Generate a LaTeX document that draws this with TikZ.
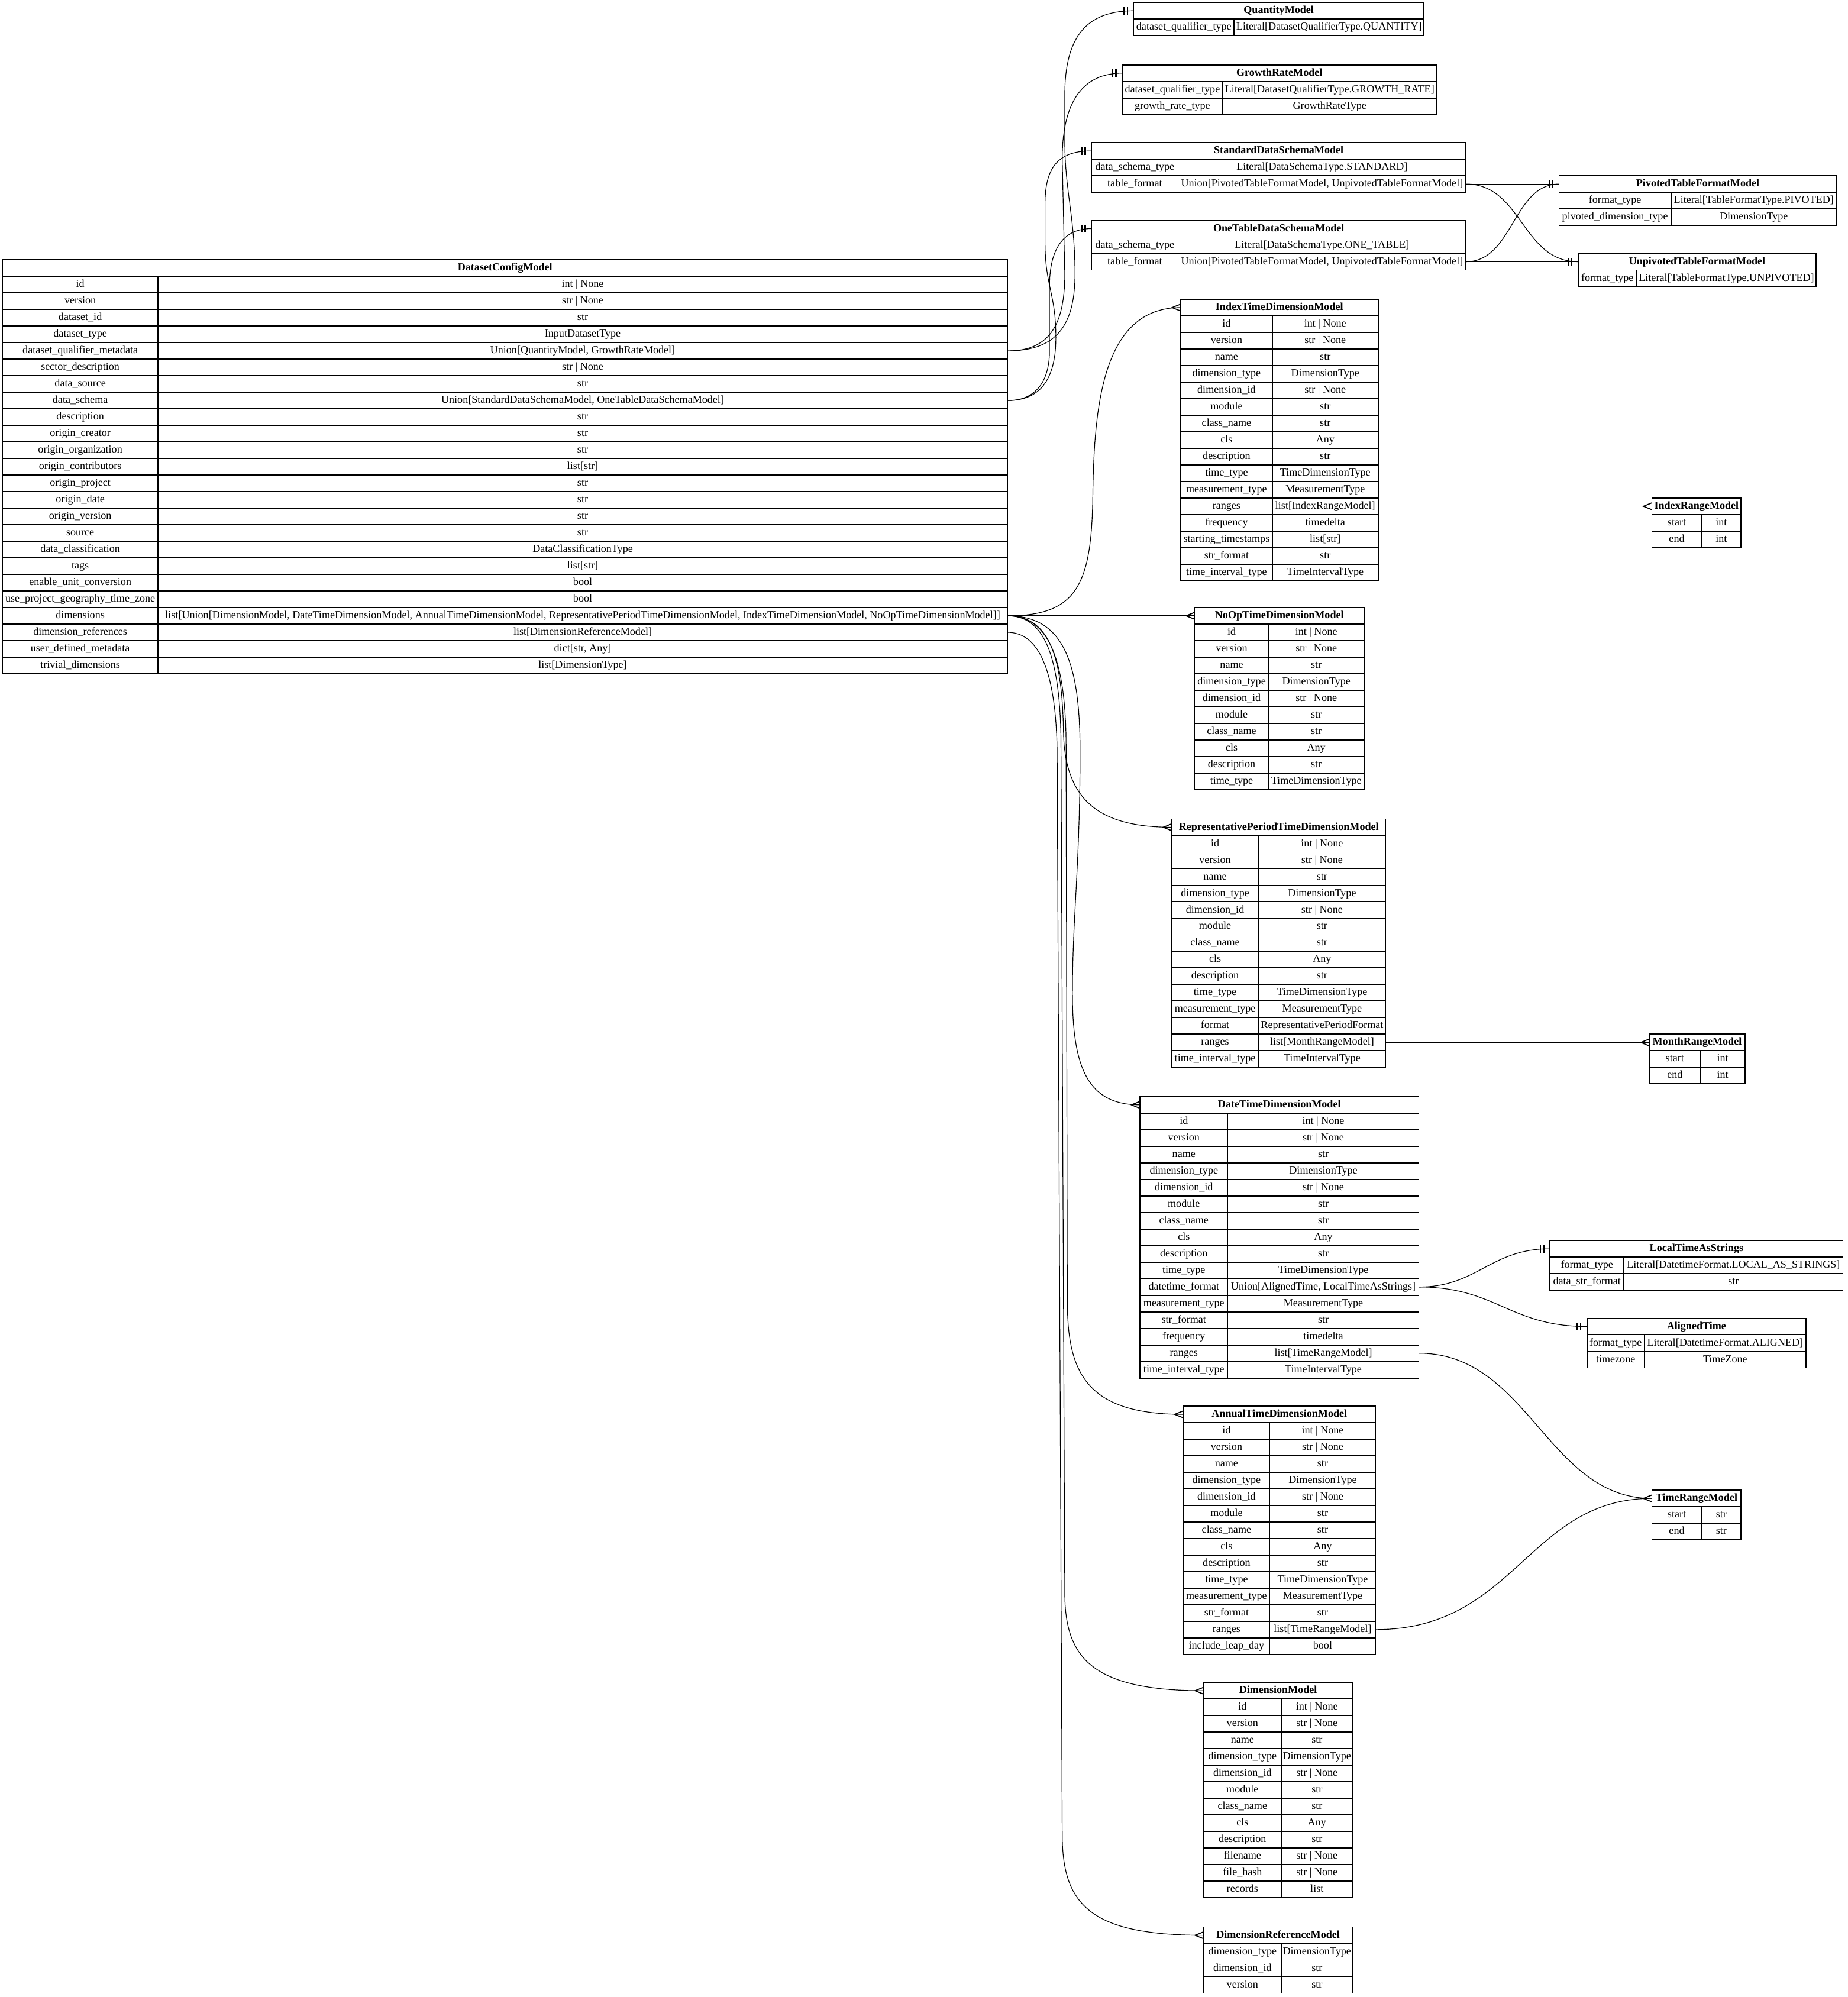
\documentclass[tikz,border=0pt]{standalone}
\usepackage{fontspec}
\setmainfont{Liberation Serif}
\usetikzlibrary{calc}
\tikzset{
  erbox/.style={draw, rectangle, line width=0.8pt, inner sep=0pt, outer sep=0pt,
    minimum height=13pt, anchor=north west, text height=6pt, text depth=1.7pt,
    font=\fontsize{8.4}{10}\selectfont},
  erhead/.style={erbox, font=\fontsize{8.4}{10}\selectfont\bfseries},
  conn/.style={draw, line width=0.55pt},
  teebar/.style={line width=1.1pt},
  crowline/.style={line width=0.8pt},
}
% #1 name, #2 x left, #3 x split, #4 x right, #5 y top, #6 title, #7 rows
\newcommand\ertable[7]{%
  \pgfmathsetmacro\erwa{#4-#2}%
  \pgfmathsetmacro\erwl{#3-#2}%
  \pgfmathsetmacro\erwr{#4-#3}%
  \node[erhead, minimum width=\erwa pt] (#1) at (#2,#5) {\makebox[0pt]{#6}};
  \foreach[count=\i] \a/\b in {#7} {
    \pgfmathsetmacro\ery{#5+13*\i}
    \node[erbox, minimum width=\erwl pt] (#1-\i-l) at (#2,\ery) {\makebox[0pt]{\a}};
    \node[erbox, minimum width=\erwr pt] (#1-\i) at (#3,\ery) {\makebox[0pt]{\b}};
  }
}
\newcommand\teetee[1]{%
  \draw[teebar] ($(#1)+(-4.9,-3.1)$) -- ($(#1)+(-4.9,3.1)$)
                ($(#1)+(-7.6,-3.1)$) -- ($(#1)+(-7.6,3.1)$);}
\newcommand\crowfoot[1]{%
  \draw[crowline] ($(#1)+(0,-2.7)$) -- ($(#1)+(-6.7,0)$) -- ($(#1)+(0,2.7)$);}
\begin{document}
\begin{tikzpicture}[x=1pt,y=-1pt]
\fill[white] (0,0) rectangle (1450.5,1568);
\useasboundingbox (0,0) rectangle (1450.5,1568);

\ertable{dc}{2}{124}{791}{204}{DatasetConfigModel}{
 {id}/{int | None},
 {version}/{str | None},
 {dataset\_id}/{str},
 {dataset\_type}/{InputDatasetType},
 {dataset\_qualifier\_metadata}/{Union[QuantityModel, GrowthRateModel]},
 {sector\_description}/{str | None},
 {data\_source}/{str},
 {data\_schema}/{Union[StandardDataSchemaModel, OneTableDataSchemaModel]},
 {description}/{str},
 {origin\_creator}/{str},
 {origin\_organization}/{str},
 {origin\_contributors}/{list[str]},
 {origin\_project}/{str},
 {origin\_date}/{str},
 {origin\_version}/{str},
 {source}/{str},
 {data\_classification}/{DataClassificationType},
 {tags}/{list[str]},
 {enable\_unit\_conversion}/{bool},
 {use\_project\_geography\_time\_zone}/{bool},
 {dimensions}/{list[Union[DimensionModel, DateTimeDimensionModel, AnnualTimeDimensionModel, RepresentativePeriodTimeDimensionModel, IndexTimeDimensionModel, NoOpTimeDimensionModel]]},
 {dimension\_references}/{list[DimensionReferenceModel]},
 {user\_defined\_metadata}/{dict[str, Any]},
 {trivial\_dimensions}/{list[DimensionType]}}

\ertable{Q}{890}{969}{1118}{2}{QuantityModel}{
 {dataset\_qualifier\_type}/{Literal[DatasetQualifierType.QUANTITY]}}

\ertable{GR}{881}{960}{1128}{51}{GrowthRateModel}{
 {dataset\_qualifier\_type}/{Literal[DatasetQualifierType.GROWTH\_RATE]},
 {growth\_rate\_type}/{GrowthRateType}}

\ertable{S}{857}{925}{1151}{112}{StandardDataSchemaModel}{
 {data\_schema\_type}/{Literal[DataSchemaType.STANDARD]},
 {table\_format}/{Union[PivotedTableFormatModel, UnpivotedTableFormatModel]}}

\ertable{OT}{857}{925}{1151}{173}{OneTableDataSchemaModel}{
 {data\_schema\_type}/{Literal[DataSchemaType.ONE\_TABLE]},
 {table\_format}/{Union[PivotedTableFormatModel, UnpivotedTableFormatModel]}}

\ertable{PV}{1224}{1312}{1442}{138}{PivotedTableFormatModel}{
 {format\_type}/{Literal[TableFormatType.PIVOTED]},
 {pivoted\_dimension\_type}/{DimensionType}}

\ertable{UP}{1239}{1285}{1426}{199}{UnpivotedTableFormatModel}{
 {format\_type}/{Literal[TableFormatType.UNPIVOTED]}}

\ertable{IT}{927}{999}{1082}{235}{IndexTimeDimensionModel}{
 {id}/{int | None},
 {version}/{str | None},
 {name}/{str},
 {dimension\_type}/{DimensionType},
 {dimension\_id}/{str | None},
 {module}/{str},
 {class\_name}/{str},
 {cls}/{Any},
 {description}/{str},
 {time\_type}/{TimeDimensionType},
 {measurement\_type}/{MeasurementType},
 {ranges}/{list[IndexRangeModel]},
 {frequency}/{timedelta},
 {starting\_timestamps}/{list[str]},
 {str\_format}/{str},
 {time\_interval\_type}/{TimeIntervalType}}

\ertable{IR}{1297}{1336}{1367}{391}{IndexRangeModel}{
 {start}/{int},
 {end}/{int}}

\ertable{NO}{938}{996}{1071}{477}{NoOpTimeDimensionModel}{
 {id}/{int | None},
 {version}/{str | None},
 {name}/{str},
 {dimension\_type}/{DimensionType},
 {dimension\_id}/{str | None},
 {module}/{str},
 {class\_name}/{str},
 {cls}/{Any},
 {description}/{str},
 {time\_type}/{TimeDimensionType}}

\ertable{RP}{920}{988}{1088}{643}{RepresentativePeriodTimeDimensionModel}{
 {id}/{int | None},
 {version}/{str | None},
 {name}/{str},
 {dimension\_type}/{DimensionType},
 {dimension\_id}/{str | None},
 {module}/{str},
 {class\_name}/{str},
 {cls}/{Any},
 {description}/{str},
 {time\_type}/{TimeDimensionType},
 {measurement\_type}/{MeasurementType},
 {format}/{RepresentativePeriodFormat},
 {ranges}/{list[MonthRangeModel]},
 {time\_interval\_type}/{TimeIntervalType}}

\ertable{MR}{1295}{1335}{1370}{812}{MonthRangeModel}{
 {start}/{int},
 {end}/{int}}

\ertable{DT}{895}{964}{1114}{861}{DateTimeDimensionModel}{
 {id}/{int | None},
 {version}/{str | None},
 {name}/{str},
 {dimension\_type}/{DimensionType},
 {dimension\_id}/{str | None},
 {module}/{str},
 {class\_name}/{str},
 {cls}/{Any},
 {description}/{str},
 {time\_type}/{TimeDimensionType},
 {datetime\_format}/{Union[AlignedTime, LocalTimeAsStrings]},
 {measurement\_type}/{MeasurementType},
 {str\_format}/{str},
 {frequency}/{timedelta},
 {ranges}/{list[TimeRangeModel]},
 {time\_interval\_type}/{TimeIntervalType}}

\ertable{LT}{1217}{1275}{1447}{974}{LocalTimeAsStrings}{
 {format\_type}/{Literal[DatetimeFormat.LOCAL\_AS\_STRINGS]},
 {data\_str\_format}/{str}}

\ertable{AL}{1246}{1291}{1418}{1035}{AlignedTime}{
 {format\_type}/{Literal[DatetimeFormat.ALIGNED]},
 {timezone}/{TimeZone}}

\ertable{AT}{929}{997}{1080}{1104}{AnnualTimeDimensionModel}{
 {id}/{int | None},
 {version}/{str | None},
 {name}/{str},
 {dimension\_type}/{DimensionType},
 {dimension\_id}/{str | None},
 {module}/{str},
 {class\_name}/{str},
 {cls}/{Any},
 {description}/{str},
 {time\_type}/{TimeDimensionType},
 {measurement\_type}/{MeasurementType},
 {str\_format}/{str},
 {ranges}/{list[TimeRangeModel]},
 {include\_leap\_day}/{bool}}

\ertable{TR}{1297}{1336}{1367}{1170}{TimeRangeModel}{
 {start}/{str},
 {end}/{str}}

\ertable{DM}{945}{1006}{1062}{1321}{DimensionModel}{
 {id}/{int | None},
 {version}/{str | None},
 {name}/{str},
 {dimension\_type}/{DimensionType},
 {dimension\_id}/{str | None},
 {module}/{str},
 {class\_name}/{str},
 {cls}/{Any},
 {description}/{str},
 {filename}/{str | None},
 {file\_hash}/{str | None},
 {records}/{list}}

\ertable{DR}{945}{1006}{1062}{1513}{DimensionReferenceModel}{
 {dimension\_type}/{DimensionType},
 {dimension\_id}/{str},
 {version}/{str}}

% ---------- connectors: one-to-one (tee tee) ----------
\draw[conn] (dc-5.east) .. controls (830,275.5) and (844,255) .. (844,215)
  .. controls (844,170) and (836,150) .. (836,110) -- (836,75)
  .. controls (836,30) and (852,8.5) .. (Q.west);
\teetee{Q.west}
\draw[conn] (dc-5.east) .. controls (822,275.5) and (836,258) .. (836,215)
  -- (834,125) .. controls (834,80) and (850,57.5) .. (GR.west);
\teetee{GR.west}
\draw[conn] (dc-8.east) .. controls (815,314.5) and (829,300) .. (829,265)
  .. controls (829,230) and (820.5,225) .. (820.5,190) -- (820.5,160)
  .. controls (820.5,130) and (832,118.5) .. (S.west);
\teetee{S.west}
\draw[conn] (dc-8.east) .. controls (813,314.5) and (824,300) .. (824,275)
  -- (824,225) .. controls (824,195) and (835,179.5) .. (OT.west);
\teetee{OT.west}

\draw[conn] (S-2.east) -- (PV.west);
\teetee{PV.west}
\draw[conn] (S-2.east) .. controls (1195,144.5) and (1195,205.5) .. (UP.west);
\draw[conn] (OT-2.east) .. controls (1188,205.5) and (1188,144.5) .. (PV.west);
\draw[conn] (OT-2.east) -- (UP.west);
\teetee{UP.west}

\draw[conn] (DT-11.east) .. controls (1160,1010.5) and (1170,980.5) .. (LT.west);
\teetee{LT.west}
\draw[conn] (DT-11.east) .. controls (1175,1010.5) and (1185,1041.5) .. (AL.west);
\teetee{AL.west}

% ---------- connectors: one-to-many (crow's foot) ----------
\draw[conn] (dc-21.east) .. controls (845,483.5) and (857,460) .. (858,390)
  .. controls (859,320) and (865,241.5) .. (IT.west);
\crowfoot{IT.west}
\draw[conn] (dc-21.east) -- (NO.west);
\crowfoot{NO.west}
\draw[conn] (dc-21.east) .. controls (826,483.5) and (834,520) .. (835,575)
  .. controls (836,630) and (865,649.5) .. (RP.west);
\crowfoot{RP.west}
\draw[conn] (dc-21.east) .. controls (835,483.5) and (848,520) .. (848,590)
  .. controls (848,680) and (842,720) .. (842,780)
  .. controls (842,840) and (855,867.5) .. (DT.west);
\crowfoot{DT.west}
\draw[conn] (dc-21.east) .. controls (822,483.5) and (836,515) .. (837,580)
  -- (838,1020) .. controls (838,1075) and (850,1110.5) .. (AT.west);
\crowfoot{AT.west}
\draw[conn] (dc-21.east) .. controls (820,483.5) and (832,515) .. (833,580)
  -- (836,1250) .. controls (836,1300) and (855,1327.5) .. (DM.west);
\crowfoot{DM.west}
\draw[conn] (dc-22.east) .. controls (815,496.5) and (829,525) .. (830,590)
  -- (834,1440) .. controls (834,1495) and (855,1519.5) .. (DR.west);
\crowfoot{DR.west}

\draw[conn] (IT-12.east) -- (IR.west);
\crowfoot{IR.west}
\draw[conn] (RP-13.east) -- (MR.west);
\crowfoot{MR.west}
\draw[conn] (DT-15.east) .. controls (1200,1062.5) and (1215,1176.5) .. (TR.west);
\draw[conn] (AT-13.east) .. controls (1190,1279.5) and (1200,1176.5) .. (TR.west);
\crowfoot{TR.west}
\end{tikzpicture}
\end{document}
